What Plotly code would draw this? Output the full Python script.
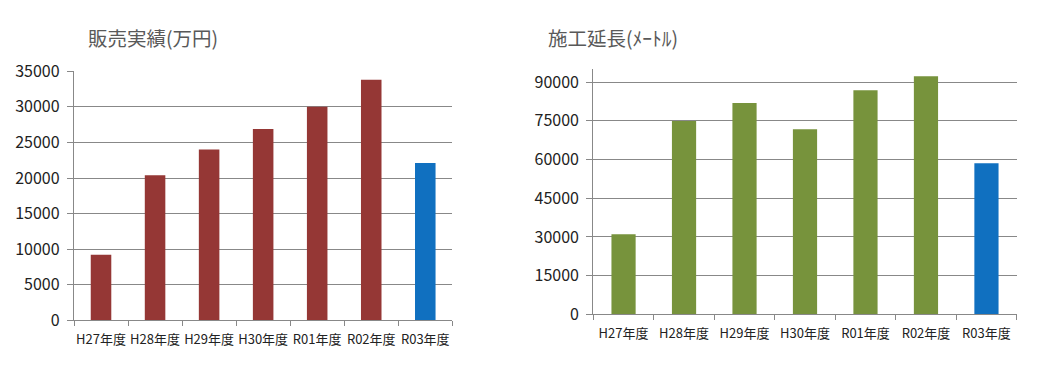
import plotly.graph_objects as go
from plotly.subplots import make_subplots

categories = ["H27年度", "H28年度", "H29年度", "H30年度", "R01年度", "R02年度", "R03年度"]
sales = [9200, 20400, 24000, 26900, 30000, 33800, 22100]
length = [31000, 75000, 81900, 71800, 86900, 92300, 58600]
sales_ticks = [0, 5000, 10000, 15000, 20000, 25000, 30000, 35000]
length_ticks = [0, 15000, 30000, 45000, 60000, 75000, 90000]

RED = "#953735"
GREEN = "#77933C"
BLUE = "#1070C0"
GRID = "#888888"
FONT = "Noto Sans CJK JP"

sales_colors = [RED] * 6 + [BLUE]
length_colors = [GREEN] * 6 + [BLUE]

fig = make_subplots(rows=1, cols=2)
fig.add_trace(go.Bar(x=categories, y=sales, marker=dict(color=sales_colors, line=dict(width=0)),
                     width=0.38, showlegend=False), row=1, col=1)
fig.add_trace(go.Bar(x=categories, y=length, marker=dict(color=length_colors, line=dict(width=0)),
                     width=0.40, showlegend=False), row=1, col=2)

# page has an 8px body margin; figure occupies page (8..1042, 8..365)
OFF = 8
W, H = 1042 - OFF, 365 - OFF


def px(xp):
    return (xp - OFF) / W


def py(yp):
    return (365 - yp) / H


axis_common = dict(showline=True, linecolor=GRID, linewidth=1.3, automargin=False)

fig.update_layout(
    width=W, height=H, margin=dict(l=0, r=0, t=0, b=0, autoexpand=False),
    paper_bgcolor="white", plot_bgcolor="white",
    font=dict(family=FONT, color="#222222"),
    xaxis=dict(domain=[px(74), px(452.3)], tickson="boundaries", ticks="outside", ticklen=5,
               tickcolor=GRID, tickangle=0, tickfont=dict(size=13, color="#222222"),
               ticklabelstandoff=7, **axis_common),
    yaxis=dict(domain=[py(320.3), py(71.3)], range=[0, 35000], tickvals=sales_ticks,
               ticktext=[str(v) for v in sales_ticks],
               ticks="outside", ticklen=6, tickcolor=GRID, showgrid=True, gridcolor=GRID,
               gridwidth=1.3, zeroline=False, tickfont=dict(size=16, color="#222222"),
               ticklabelstandoff=4, **axis_common),
    xaxis2=dict(domain=[px(593.3), px(1016.7)], tickson="boundaries", ticks="outside", ticklen=5,
                tickcolor=GRID, tickangle=0, tickfont=dict(size=13, color="#222222"),
                ticklabelstandoff=7, **axis_common),
    yaxis2=dict(domain=[py(314.3), py(69.3)], range=[0, 95000], tickvals=length_ticks,
                ticktext=[str(v) for v in length_ticks],
                ticks="outside", ticklen=6, tickcolor=GRID, showgrid=True, gridcolor=GRID,
                gridwidth=1.3, zeroline=False, tickfont=dict(size=16, color="#222222"),
                ticklabelstandoff=4, **axis_common),
    bargap=0.6,
    annotations=[
        dict(text="販売実績(万円)", x=px(86), y=py(37), xref="paper", yref="paper",
             xanchor="left", yanchor="middle", showarrow=False,
             font=dict(size=19.5, color="#595959", family=FONT)),
        dict(text="施工延長(ﾒｰﾄﾙ)", x=px(546), y=py(37), xref="paper", yref="paper",
             xanchor="left", yanchor="middle", showarrow=False,
             font=dict(size=19.5, color="#595959", family=FONT)),
    ],
)

fig.write_html("out.html")
